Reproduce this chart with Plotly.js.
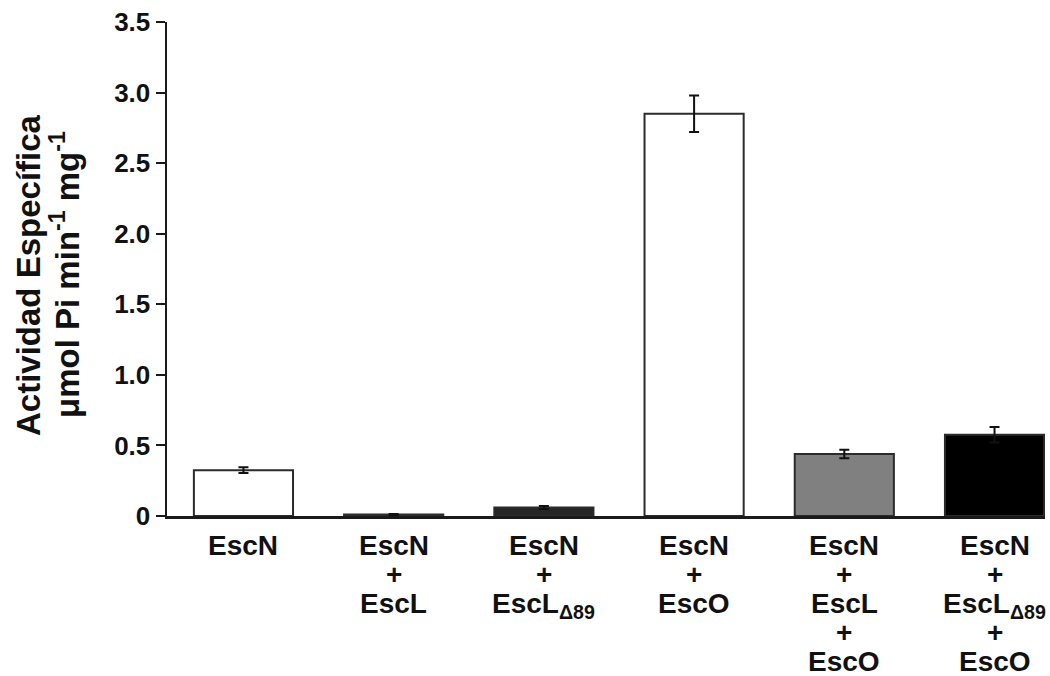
<!DOCTYPE html>
<html>
<head>
<meta charset="utf-8">
<script src="https://cdn.plot.ly/plotly-3.0.1.min.js"></script>
<style>html,body{margin:0;padding:0;background:#fff}#chart{width:1050px;height:676px}</style>
</head>
<body>
<div id="chart"></div>
<script>
const categories = [
  "EscN",
  "EscN<br>+<br>EscL",
  "EscN<br>+<br>EscL<sub>Δ89</sub>",
  "EscN<br>+<br>EscO",
  "EscN<br>+<br>EscL<br>+<br>EscO",
  "EscN<br>+<br>EscL<sub>Δ89</sub><br>+<br>EscO"
];
const values = [0.325, 0.01, 0.06, 2.85, 0.44, 0.575];
const errors = [0.02, 0.005, 0.01, 0.13, 0.03, 0.055];
const barColors = ["#ffffff", "#333333", "#262626", "#ffffff", "#808080", "#000000"];
const yTickVals = [0, 0.5, 1.0, 1.5, 2.0, 2.5, 3.0, 3.5];
const yTickText = ["0", "0.5", "1.0", "1.5", "2.0", "2.5", "3.0", "3.5"];
const yTitleLines = ["Actividad Específica", "μmol Pi min<sup>-1</sup> mg<sup>-1</sup>"];

const font = "Liberation Sans, Arial, sans-serif";
const ink = "#111";

const trace = {
  type: "bar",
  x: categories,
  y: values,
  width: 0.66,
  marker: {color: barColors, line: {color: "#2b2b2b", width: 2}},
  error_y: {type: "data", array: errors, visible: true, color: ink, thickness: 2, width: 5},
  hoverinfo: "skip"
};

// category labels: one annotation per text line, tight line pitch like the reference
const annotations = [];
categories.forEach(function (cat) {
  cat.split("<br>").forEach(function (line, i) {
    annotations.push({
      x: cat, xref: "x", y: 0, yref: "paper",
      xanchor: "center", yanchor: "top",
      yshift: -12 - i * 29,
      text: line, showarrow: false,
      font: {family: font, size: 28, color: ink, weight: "bold"}
    });
  });
});
// y-axis title, two rotated lines
const titleShifts = [-139, -102];
yTitleLines.forEach(function (line, i) {
  annotations.push({
    x: 0, xref: "paper", y: 0.5, yref: "paper",
    xanchor: "center", yanchor: "middle",
    xshift: titleShifts[i], yshift: -6, textangle: -90,
    text: line, showarrow: false,
    font: {family: font, size: 33, color: ink, weight: "bold"}
  });
});

const layout = {
  width: 1050, height: 676,
  margin: {l: 167, r: 5, t: 22, b: 160},
  paper_bgcolor: "#fff", plot_bgcolor: "#fff",
  showlegend: false,
  font: {family: font, color: ink},
  xaxis: {
    type: "category",
    range: [-0.509, 5.336],
    showline: true, linecolor: "#1a1a1a", linewidth: 2.5,
    ticks: "", showgrid: false, zeroline: false,
    showticklabels: false
  },
  yaxis: {
    range: [0, 3.5],
    tickvals: yTickVals, ticktext: yTickText,
    showline: true, linecolor: "#1a1a1a", linewidth: 2.5,
    ticks: "outside", ticklen: 9, tickwidth: 2, tickcolor: "#1a1a1a",
    showgrid: false, zeroline: false,
    tickfont: {family: font, size: 26, color: ink, weight: "bold"}
  },
  annotations: annotations
};
Plotly.newPlot("chart", [trace], layout, {staticPlot: true});
</script>
</body>
</html>
